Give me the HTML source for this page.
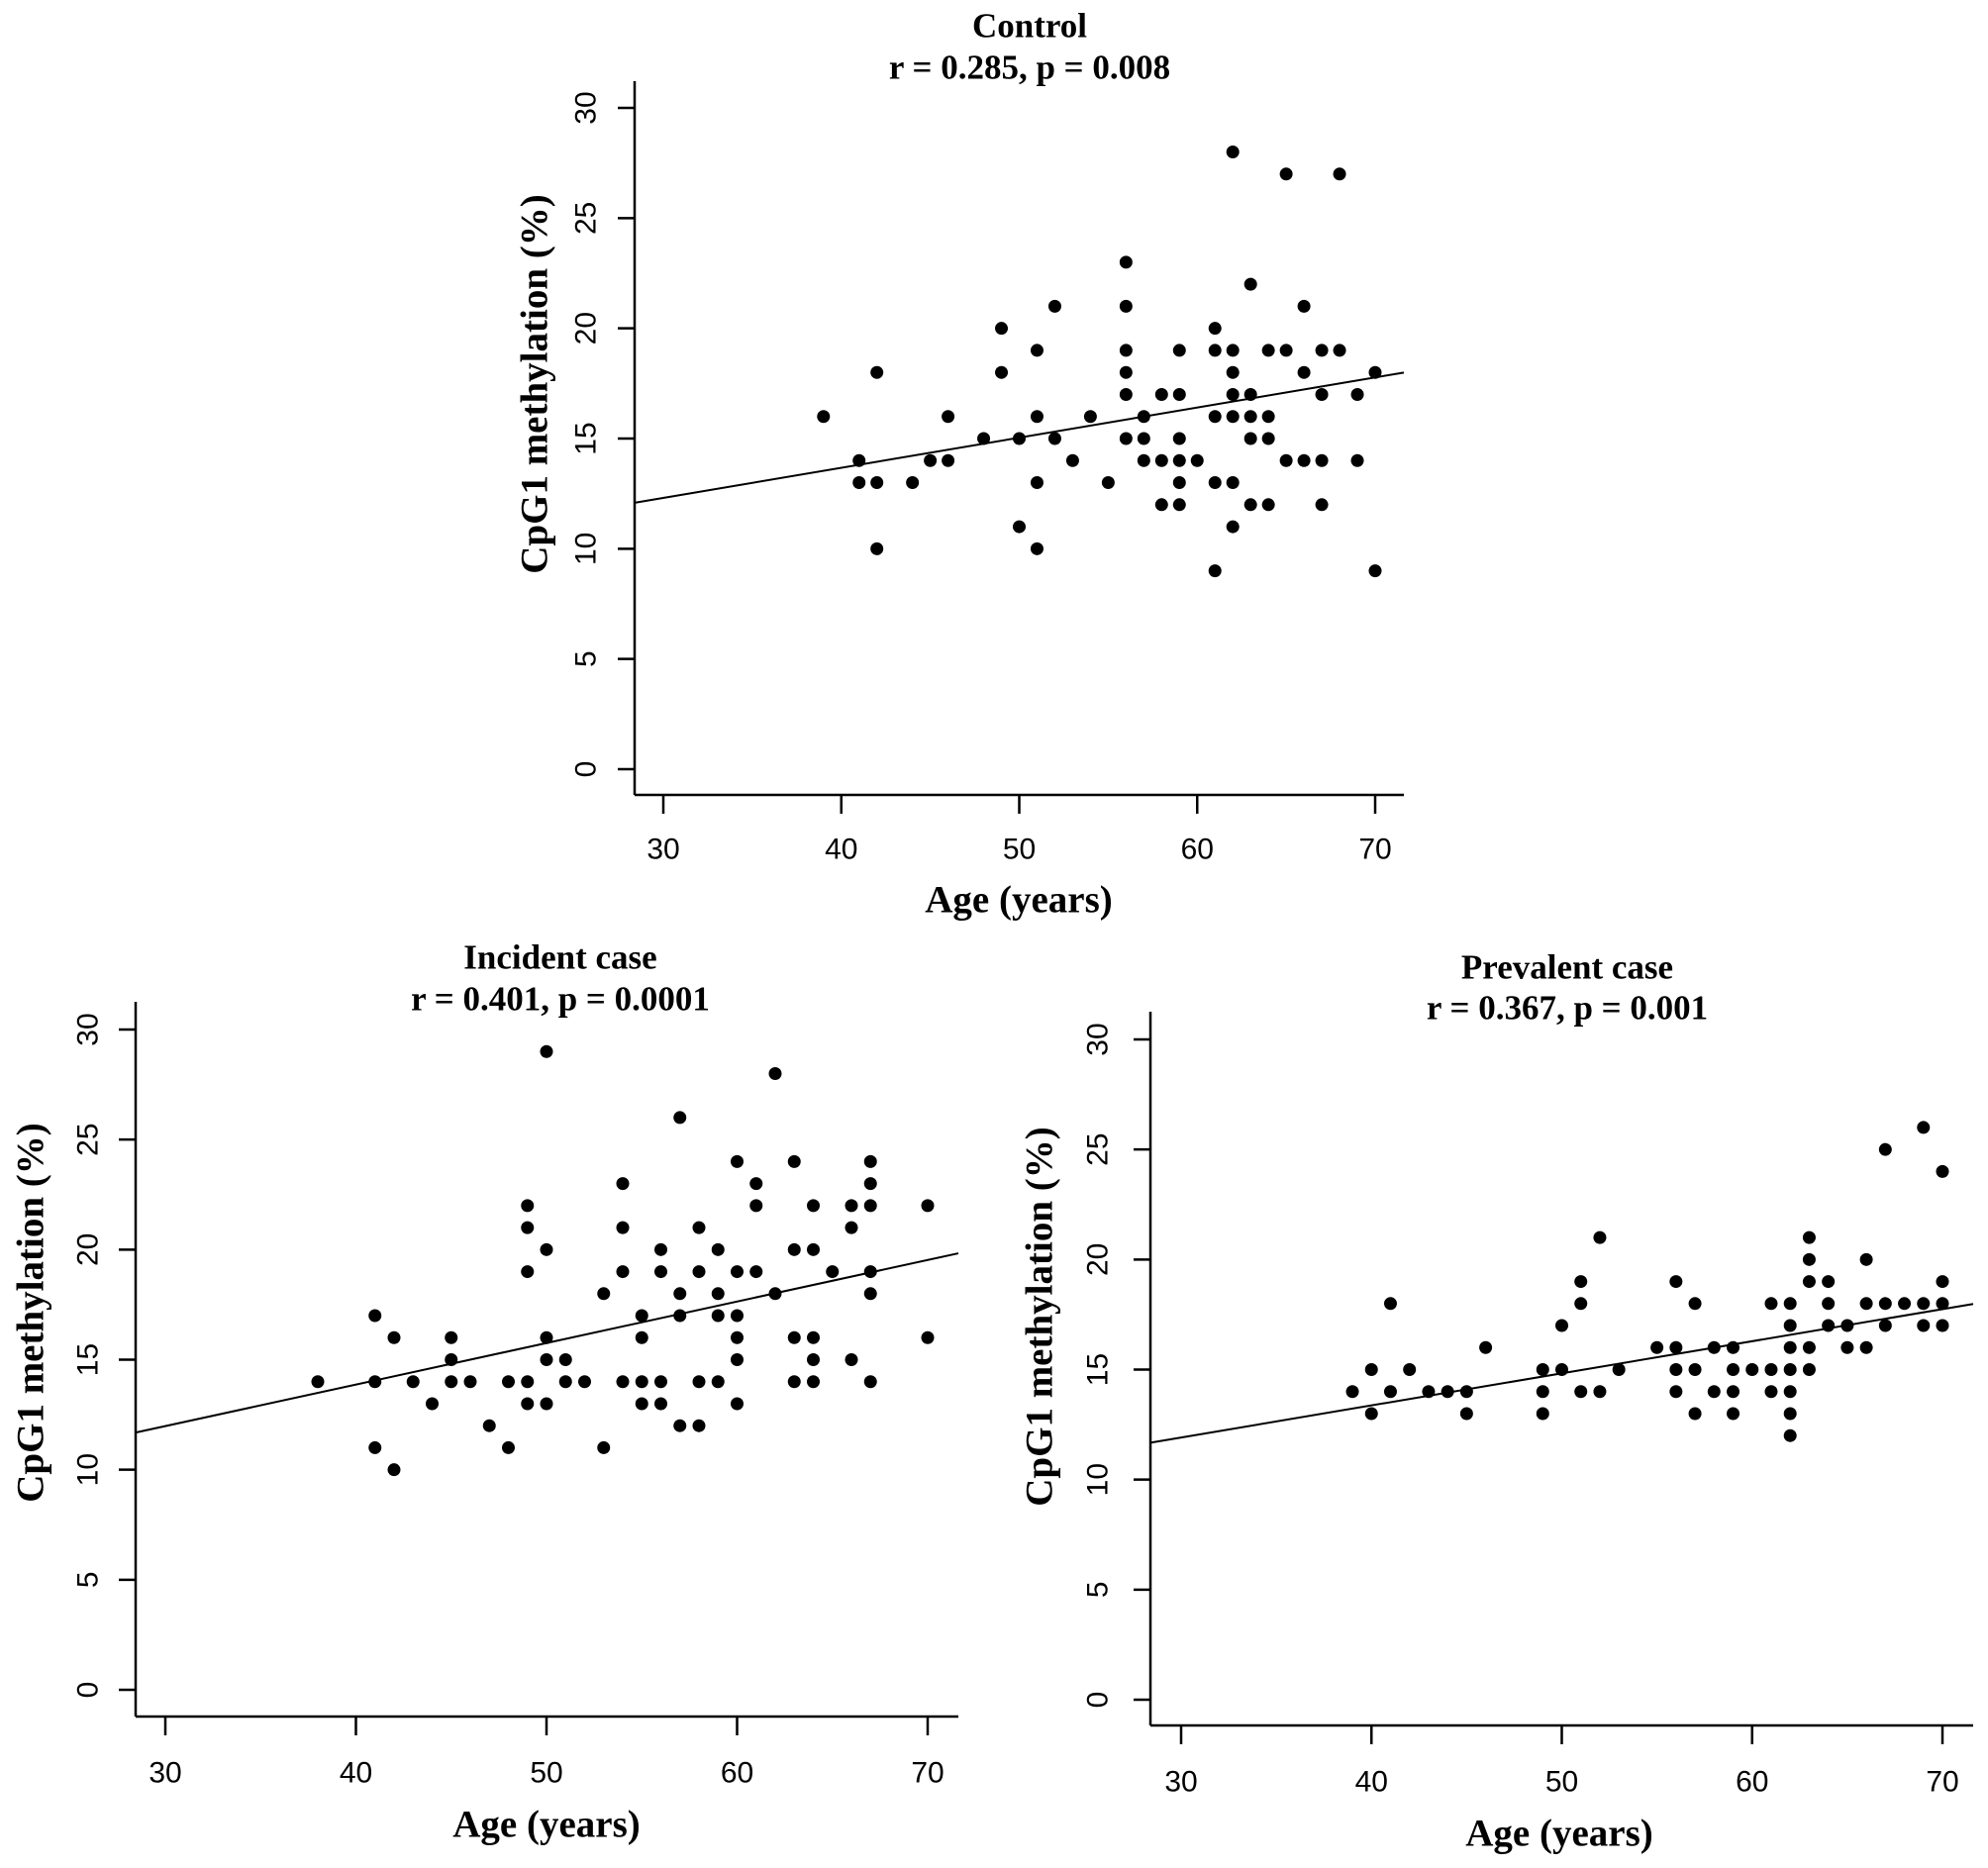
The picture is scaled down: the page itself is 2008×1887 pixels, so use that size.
<!DOCTYPE html>
<html><head><meta charset="utf-8">
<style>
html,body{margin:0;padding:0;background:#fff;}
svg{display:block;}
.tl{font-family:"Liberation Serif",serif;font-weight:bold;font-size:35px;text-anchor:middle;fill:#000;}
.tk{font-family:"Liberation Sans",sans-serif;font-size:30px;text-anchor:middle;fill:#000;}
.at{font-family:"Liberation Serif",serif;font-weight:bold;font-size:39px;text-anchor:middle;fill:#000;}
</style></head>
<body>
<svg id="fig" width="2008" height="1887" viewBox="0 0 2008 1887" xmlns="http://www.w3.org/2000/svg"></svg>
<script>
// Control
const ctrlAges = [39,41,41,42,42,42,44,45,46,46,48,49,49,50,50,51,51,51,51,52,52,53,54,55,56,56,56,56,56,56,57,57,57,58,58,58,59,59,59,59,59,59,60,61,61,61,61,61,62,62,62,62,62,62,62,63,63,63,63,63,64,64,64,64,65,65,65,66,66,66,67,67,67,67,68,68,69,69,70,70];
const ctrlVals = [16,14,13,18,13,10,13,14,16,14,15,20,18,15,11,19,16,13,10,21,15,14,16,13,23,21,19,18,17,15,16,15,14,17,14,12,19,17,15,14,13,12,14,20,19,16,13,9,28,19,18,17,16,13,11,22,17,16,15,12,19,16,15,12,27,19,14,21,18,14,19,17,14,12,27,19,17,14,18,9];
const ctrlFit = [8.21, 0.1366]; // intercept, slope
// Incident
const incAges = [38,41,41,41,42,42,43,44,45,45,45,46,47,48,48,49,49,49,49,49,50,50,50,50,50,51,51,52,53,53,54,54,54,54,55,55,55,55,56,56,56,56,57,57,57,57,58,58,58,58,59,59,59,59,60,60,60,60,60,60,61,61,61,62,62,63,63,63,63,64,64,64,64,64,65,66,66,66,67,67,67,67,67,67,70,70];
const incVals = [14,17,14,11,16,10,14,13,16,15,14,14,12,14,11,22,21,19,14,13,29,20,16,15,13,15,14,14,18,11,23,21,19,14,17,16,14,13,20,19,14,13,26,18,17,12,21,19,14,12,20,18,17,14,24,19,17,16,15,13,23,22,19,28,18,24,20,16,14,22,20,16,15,14,19,22,21,15,24,23,22,19,18,14,22,16];
const incFit = [6.32, 0.1887];
// Prevalent
const prevAges = [39,40,40,41,41,42,43,44,45,45,46,49,49,49,50,50,51,51,51,52,52,53,55,56,56,56,56,57,57,57,58,58,59,59,59,59,60,61,61,61,62,62,62,62,62,62,62,63,63,63,63,63,64,64,64,65,65,66,66,66,67,67,67,68,69,69,69,70,70,70,70];
const prevVals = [14,15,13,18,14,15,14,14,14,13,16,15,14,13,17,15,19,18,14,21,14,15,16,19,16,15,14,18,15,13,16,14,16,15,14,13,15,18,15,14,18,17,16,15,14,13,12,21,20,19,16,15,19,18,17,17,16,20,18,16,25,18,17,18,26,18,17,24,19,18,17];
const prevFit = [7.54, 0.1458];
const xTicks = [30,40,50,60,70];
const yTicks = [0,5,10,15,20,25,30];

const NS = "http://www.w3.org/2000/svg";
const svg = document.getElementById('fig');
function mk(tag, attrs, parent){
  const e = document.createElementNS(NS, tag);
  for (const k in attrs) e.setAttribute(k, attrs[k]);
  (parent||svg).appendChild(e);
  return e;
}
function panel(cfg, ages, vals, fit){
  const g = mk('g', {});
  
  
  const sx = a => cfg.x30 + (a-30)*(cfg.x70-cfg.x30)/40;
  const sy = v => cfg.y0 - v*(cfg.y0-cfg.y30)/30;
  const xmin = 30 + (cfg.left-cfg.x30)/((cfg.x70-cfg.x30)/40);
  const xmax = 30 + (cfg.right-cfg.x30)/((cfg.x70-cfg.x30)/40);
  const ya = mk('line', {x1:cfg.left, y1:cfg.top, x2:cfg.left, y2:cfg.bottom, stroke:'#000','stroke-width':2.5}, g);
  
  
  const xa = mk('line', {x1:cfg.left, y1:cfg.bottom, x2:cfg.right, y2:cfg.bottom, stroke:'#000','stroke-width':2.5}, g);
  
  
  xTicks.forEach(t => {
    const x = sx(t);
    const l = mk('line', {x1:x, y1:cfg.bottom, x2:x, y2:cfg.bottom+19, stroke:'#000','stroke-width':2.5}, g);
    
    
    const tx = mk('text', {x:x, y:cfg.xlab, class:'tk', 'dominant-baseline':'central'}, g);
    tx.textContent = t;
    
    
  });
  yTicks.forEach(t => {
    const y = sy(t);
    const l = mk('line', {x1:cfg.left-17, y1:y, x2:cfg.left, y2:y, stroke:'#000','stroke-width':2.5}, g);
    
    
    const tx = mk('text', {x:cfg.ylab, y:y, class:'tk', 'dominant-baseline':'central', transform:`rotate(-90 ${cfg.ylab} ${y})`}, g);
    tx.textContent = t;
    
    
  });
  const rl = mk('line', {x1:sx(xmin), y1:sy(fit[0]+fit[1]*xmin), x2:sx(xmax), y2:sy(fit[0]+fit[1]*xmax), stroke:'#000','stroke-width':2}, g);
  
  
  ages.forEach((a,i) => {
    const c = mk('circle', {cx:sx(a), cy:sy(vals[i]), r:6.5, fill:'#000'}, g);
    
    
  });
  const t1 = mk('text', {x:cfg.tx, y:cfg.t1, class:'tl', 'dominant-baseline':'central'}, g);
  t1.textContent = cfg.title;
  
  
  const t2 = mk('text', {x:cfg.tx, y:cfg.t2, class:'tl', 'dominant-baseline':'central'}, g);
  t2.textContent = cfg.stat;
  
  
  const xt = mk('text', {x:cfg.xtx, y:cfg.xty, class:'at', 'dominant-baseline':'central'}, g);
  xt.textContent = 'Age (years)';
  
  
  const yt = mk('text', {x:cfg.ytx, y:cfg.yty, class:'at', 'dominant-baseline':'central', transform:`rotate(-90 ${cfg.ytx} ${cfg.yty})`}, g);
  yt.textContent = 'CpG1 methylation (%)';
  
  
}
panel({name:'control-panel', left:641, right:1418, top:82, bottom:803, x30:670, x70:1389, y0:777, y30:109,
  xlab:858, ylab:592, tx:1040, t1:26, t2:68, title:'Control', stat:'r = 0.285, p = 0.008',
  xtx:1029, xty:909, ytx:540, yty:388}, ctrlAges, ctrlVals, ctrlFit);
panel({name:'incident-panel', left:137, right:968, top:1012, bottom:1734, x30:167, x70:937, y0:1707, y30:1040,
  xlab:1791, ylab:89, tx:566, t1:967, t2:1009, title:'Incident case', stat:'r = 0.401, p = 0.0001',
  xtx:552, xty:1843, ytx:31, yty:1326}, incAges, incVals, incFit);
panel({name:'prevalent-panel', left:1162, right:1993, top:1022, bottom:1743, x30:1193, x70:1962, y0:1717, y30:1050,
  xlab:1800, ylab:1109, tx:1583, t1:977, t2:1018, title:'Prevalent case', stat:'r = 0.367, p = 0.001',
  xtx:1575, xty:1852, ytx:1050, yty:1330}, prevAges, prevVals, prevFit);
</script>
</body></html>
